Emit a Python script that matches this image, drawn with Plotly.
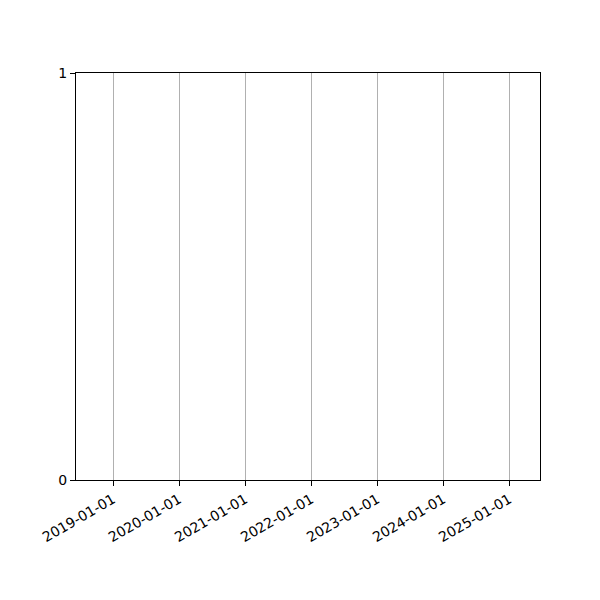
import plotly.graph_objects as go

# tick dates on the x axis (yearly)
tick_dates = ["2019-01-01", "2020-01-01", "2021-01-01", "2022-01-01",
              "2023-01-01", "2024-01-01", "2025-01-01"]
x_range = ["2018-06-10", "2025-06-20"]
y_ticks = [0, 1]

# empty series, the chart has no data marks
series_x = []
series_y = []

fig = go.Figure()
fig.add_trace(go.Scatter(x=series_x, y=series_y, mode="lines", showlegend=False))

fig.update_layout(
    width=600, height=600,
    margin=dict(l=68, r=68, t=65, b=128),
    paper_bgcolor="white",
    plot_bgcolor="white",
    font=dict(family="DejaVu Sans", size=14, color="black"),
    showlegend=False,
)
fig.update_xaxes(
    type="date",
    range=x_range,
    tickmode="array",
    tickvals=tick_dates,
    ticktext=tick_dates,
    tickangle=-30,
    ticks="outside", ticklen=5, tickcolor="black",
    showgrid=True, gridcolor="#b0b0b0", gridwidth=0.8,
    showline=True, linecolor="black", linewidth=1, mirror=True,
    zeroline=False,
)
fig.update_yaxes(
    range=[0, 1],
    tickmode="array",
    tickvals=y_ticks,
    ticks="outside", ticklen=5, tickcolor="black",
    showgrid=False,
    showline=True, linecolor="black", linewidth=1, mirror=True,
    zeroline=False,
)

fig.write_html("out.html")
